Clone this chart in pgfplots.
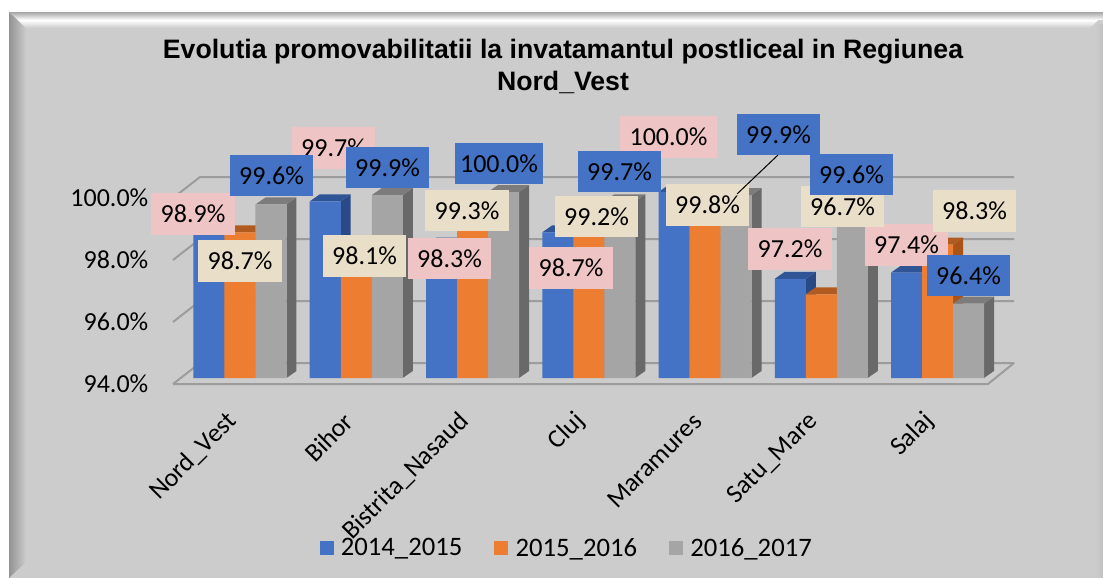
\documentclass[border=0pt]{standalone}
\usepackage{fontspec}
\setmainfont{Carlito}
\newfontfamily\titlefont{Liberation Sans}
\usepackage{pgfplots}
\usepackage{pgfplotstable}
\pgfplotsset{compat=1.18}

\definecolor{bgc}{HTML}{CCCCCC}
\definecolor{gridc}{HTML}{9C9C9C}
\definecolor{ser1}{HTML}{4472C4}
\definecolor{ser2}{HTML}{ED7D31}
\definecolor{ser3}{HTML}{A5A5A5}
\definecolor{ser1side}{HTML}{294A86}
\definecolor{ser1top}{HTML}{2F5597}
\definecolor{ser2side}{HTML}{A85419}
\definecolor{ser2top}{HTML}{B25B20}
\definecolor{ser3side}{HTML}{696969}
\definecolor{ser3top}{HTML}{7C7C7C}
\definecolor{pinkl}{HTML}{EFC4C4}
\definecolor{parch}{HTML}{E9DFC9}

\pgfplotstableread{
x  a      b     c
0  98.9   98.7  99.6
1  99.7   98.1  99.9
2  98.3   99.3  100.0
3  98.7   99.2  99.7
4  100.0  99.8  99.9
5  97.2   96.7  99.6
6  97.4   98.3  96.4
}\promo

% bar width and depth in data units
\def\bw{0.26667}
\def\ddx{0.086}
\def\ddy{0.2258}

\newcommand\barfaces[5]{%
  \pgfmathsetmacro\xl{#1+(#2-1.5)*\bw}%
  \pgfmathsetmacro\xr{\xl+\bw}%
  \pgfmathsetmacro\xs{\xr+\ddx}%
  \pgfmathsetmacro\xt{\xl+\ddx}%
  \pgfmathsetmacro\yt{#3+\ddy}%
  \pgfmathsetmacro\yf{94+\ddy}%
  \edef\doit{%
    \noexpand\addplot[forget plot,draw=none,fill=#4] coordinates {(\xr,94) (\xr,#3) (\xs,\yt) (\xs,\yf)} -- cycle;
    \noexpand\addplot[forget plot,draw=none,fill=#5] coordinates {(\xl,#3) (\xr,#3) (\xs,\yt) (\xt,\yt)} -- cycle;
  }\doit
}

\pgfplotsset{base/.style={
  at={(129.75pt,-283.5pt)}, anchor=south west,
  scale only axis, width=630.75pt, height=139.5pt,
  xmin=-0.5763, xmax=6.658, ymin=94, ymax=100,
}}

\newcommand\lab[4]{\node[fill=#1,minimum width=62.5pt,minimum height=31pt,inner sep=0pt,font=\fontsize{19.5}{20}\selectfont] at (#2,#3) {#4\%};}

\begin{document}
\begin{tikzpicture}[x=0.75pt,y=-0.75pt]
\fill[white] (0,0) rectangle (1103,578);
\fill[bgc] (9,12) rectangle (1103,578);
% bevel
\shade[left color=gray!85,right color=bgc] (9,12) -- (26,28) -- (26,562) -- (9,578) -- cycle;
\shade[top color=white,bottom color=bgc] (18,20) -- (1098,20) -- (1090,28) -- (26,28) -- cycle;
\shade[top color=gray!70,bottom color=white] (9,12) -- (1103,12) -- (1103,20) -- (18,20) -- cycle;
\shade[left color=bgc,right color=gray!50] (1096,24) rectangle (1103,578);
\shade[top color=bgc,bottom color=gray!40] (26,573) rectangle (1096,578);

\begin{axis}[base, axis lines=none, clip=false]
  % side walls and floor
  \addplot[forget plot,gridc,line width=1.5pt] coordinates {(-0.5763,93.8065) (-0.344,94.484) (6.658,94.484)};
  \addplot[forget plot,gridc,line width=1.5pt] coordinates {(-0.5763,95.8065) (-0.344,96.484) (6.658,96.484)};
  \addplot[forget plot,gridc,line width=1.5pt] coordinates {(-0.5763,97.8065) (-0.344,98.484) (6.658,98.484)};
  \addplot[forget plot,gridc,line width=1.5pt] coordinates {(-0.5763,99.8065) (-0.344,100.484) (6.658,100.484)};
  \addplot[forget plot,gridc,line width=1.5pt] coordinates {(-0.5763,93.8065) (6.434,93.8065) (6.658,94.484)};
  \pgfplotsforeachungrouped \i in {0,...,6}{%
    \pgfplotstablegetelem{\i}{a}\of\promo \edef\va{\pgfplotsretval}%
    \pgfplotstablegetelem{\i}{b}\of\promo \edef\vb{\pgfplotsretval}%
    \pgfplotstablegetelem{\i}{c}\of\promo \edef\vc{\pgfplotsretval}%
    \barfaces{\i}{0}{\va}{ser1side}{ser1top}%
    \barfaces{\i}{1}{\vb}{ser2side}{ser2top}%
    \barfaces{\i}{2}{\vc}{ser3side}{ser3top}%
  }
\end{axis}

\begin{axis}[base,
  ybar=0pt, bar width=23.25pt,
  axis line style={draw=none}, tick style={draw=none},
  xtick={0,...,6},
  xticklabels={Nord\_Vest,Bihor,Bistrita\_Nasaud,Cluj,Maramures,Satu\_Mare,Salaj},
  xticklabel style={rotate=45,anchor=east,xshift=-18.4pt,yshift=-13.9pt,font=\fontsize{19.5}{20}\selectfont},
  ytick={94,96,98,100},
  yticklabel={\pgfmathprintnumber[fixed,fixed zerofill,precision=1,assume math mode=true]{\tick}\%},
  yticklabel style={yshift=-4.5pt,xshift=-15pt,font=\fontsize{19.5}{20}\selectfont},
  legend columns=3,
  legend style={at={(0.4685,-0.914)},anchor=center,draw=none,fill=none,
    font=\fontsize{20}{20}\selectfont,
    /tikz/every odd column/.append style={column sep=3.5pt},
    /tikz/every even column/.append style={column sep=22pt}},
  legend image code/.code={\fill[#1] (0pt,-5.5pt) rectangle (10.5pt,5.5pt);},
]
  \addplot[draw=none,fill=ser1] table[x=x,y=a] {\promo};
  \addplot[draw=none,fill=ser2] table[x=x,y=b] {\promo};
  \addplot[draw=none,fill=ser3] table[x=x,y=c] {\promo};
  \legend{2014\_2015,2015\_2016,2016\_2017}
\end{axis}

\node[font=\titlefont\bfseries\fontsize{20}{24}\selectfont,align=center] at (563,66) {Evolutia promovabilitatii la invatamantul postliceal in Regiunea\\Nord\_Vest};

% data labels, 2014_2015
\lab{pinkl}{193}{214}{98.9}
\lab{pinkl}{333.5}{148}{99.7}
\lab{pinkl}{449.5}{258.5}{98.3}
\lab{pinkl}{571}{268}{98.7}
\node[fill=pinkl,minimum width=72.5pt,minimum height=31pt,inner sep=0pt,font=\fontsize{19.5}{20}\selectfont] at (668.5,137) {100.0\%};
\lab{pinkl}{790}{249}{97.2}
\lab{pinkl}{906.5}{245}{97.4}
% 2015_2016
\lab{parch}{240}{261}{98.7}
\lab{parch}{364.5}{256}{98.1}
\lab{parch}{467}{210.5}{99.3}
\lab{parch}{596.5}{216.5}{99.2}
\lab{parch}{707.5}{205}{99.8}
\lab{parch}{842.5}{206.5}{96.7}
\lab{parch}{974.5}{211}{98.3}
% 2016_2017
\lab{ser1}{271.5}{175.5}{99.6}
\lab{ser1}{387.5}{167.5}{99.9}
\node[fill=ser1,minimum width=66pt,minimum height=31pt,inner sep=0pt,font=\fontsize{19.5}{20}\selectfont] at (499,163.5) {100.0\%};
\lab{ser1}{619.5}{171.5}{99.7}
\lab{ser1}{851.5}{174.5}{99.6}
\lab{ser1}{968.5}{275.5}{96.4}
\draw[black,line width=0.75pt] (778,155) -- (737,194);
\lab{ser1}{778.5}{134.5}{99.9}
\end{tikzpicture}
\end{document}
